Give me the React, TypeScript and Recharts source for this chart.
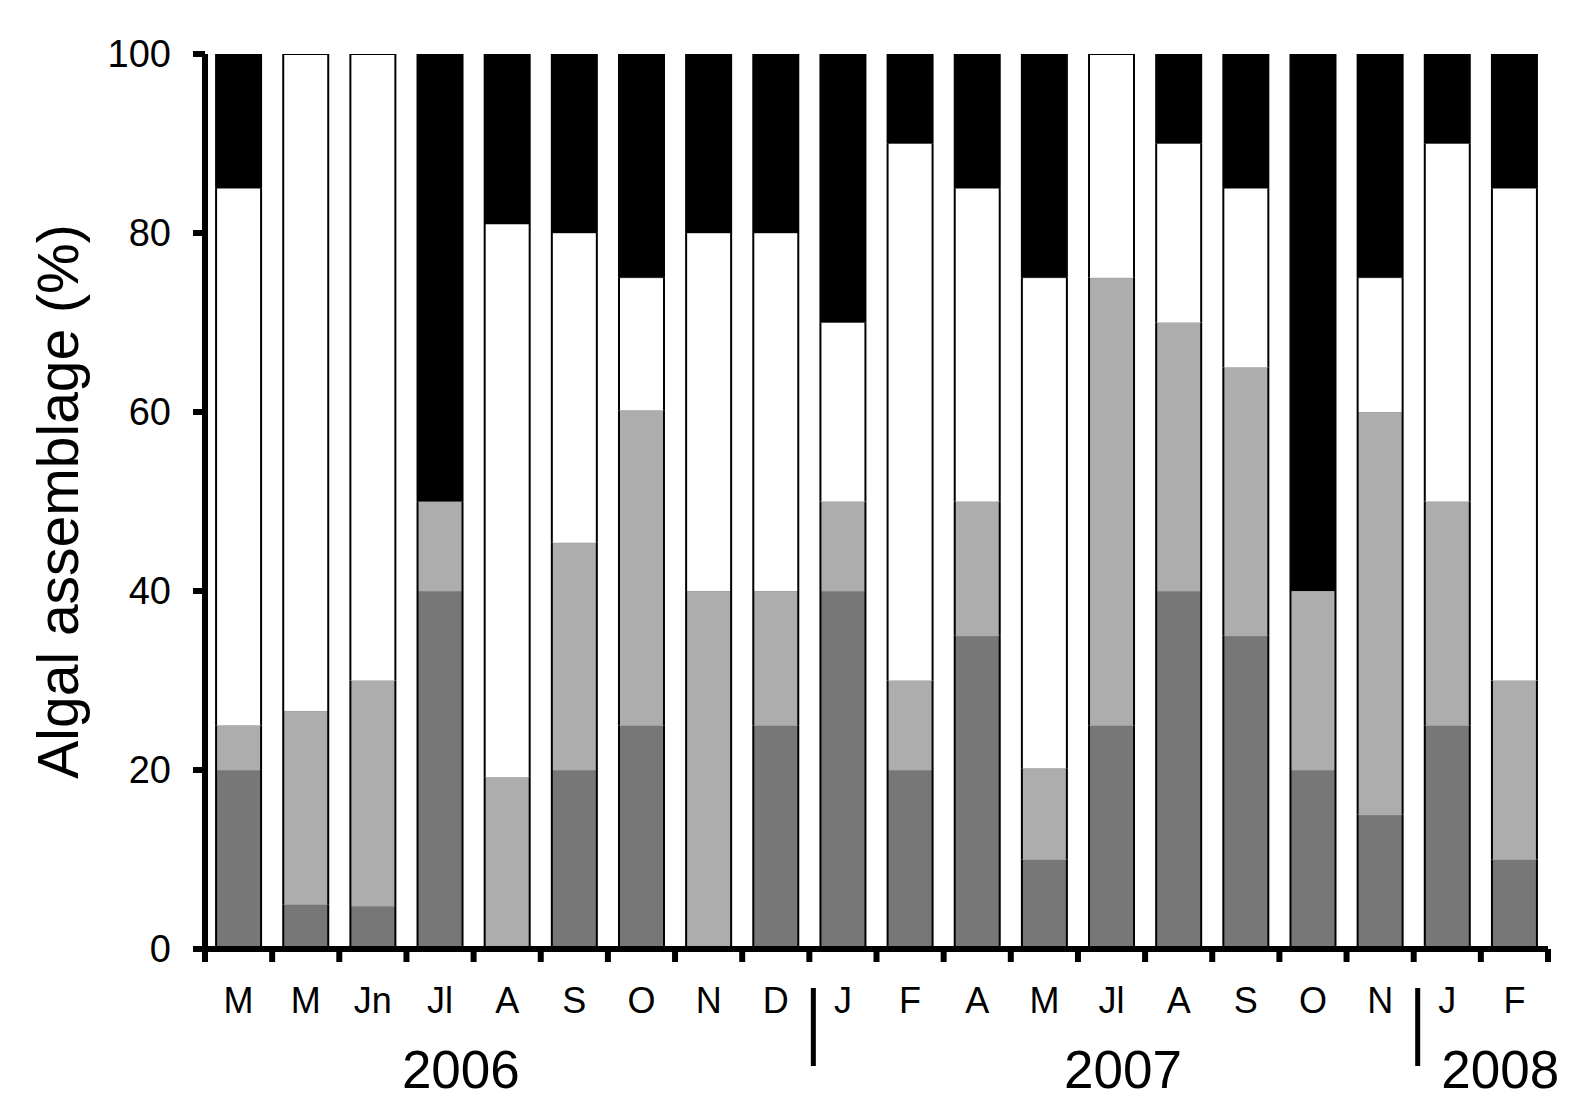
import { BarChart, Bar, XAxis, YAxis } from 'recharts';

const months = ['M', 'M', 'Jn', 'Jl', 'A', 'S', 'O', 'N', 'D', 'J', 'F', 'A', 'M', 'Jl', 'A', 'S', 'O', 'N', 'J', 'F'];

// % of the algal assemblage, bottom to top of each bar
const darkGrey = [20, 5, 4.8, 40, 0.3, 20, 25, 0, 25, 40, 20, 35, 10, 25, 40, 35, 20, 15, 25, 10];
const lightGrey = [5, 21.6, 25.2, 10, 18.9, 25.4, 35.2, 40, 15, 10, 10, 15, 10.2, 50, 30, 30, 20, 45, 25, 20];
const whitePart = [60, 73.4, 70, 0, 61.8, 34.6, 14.8, 40, 40, 20, 60, 35, 54.8, 25, 20, 20, 0, 15, 40, 55];
const blackPart = [15, 0, 0, 50, 19, 20, 25, 20, 20, 30, 10, 15, 25, 0, 10, 15, 60, 25, 10, 15];

const yTicks = [0, 20, 40, 60, 80, 100];

const years = [
  { label: '2006', at: 3, shift: 0.31 },
  { label: '2007', at: 13, shift: 0.17 },
  { label: '2008', at: 18, shift: 0.79 },
];
// year breaks sit just before these categories
const yearBreaks = [9, 18];

const data = months.map((month, i) => ({
  month,
  dark: darkGrey[i],
  light: lightGrey[i],
  white: whitePart[i],
  black: blackPart[i],
}));

const segKeys = ['dark', 'light', 'white', 'black'];
const FONT = '"Liberation Sans", Arial, Helvetica, sans-serif';

function makeShape(key: string) {
  return (props: any) => {
    const { x, y, width, height, fill, payload } = props;
    if (!height || height <= 0) return <g />;
    const idx = segKeys.indexOf(key);
    const isTop = segKeys.slice(idx + 1).every((k) => !(payload[k] > 0));
    return (
      <g>
        <rect x={x} y={y} width={width} height={height} fill={fill} />
        {!isTop && key !== 'black' && (
          <line x1={x} x2={x + width} y1={y} y2={y} stroke="#9a9a9a" strokeWidth={1} />
        )}
        <line x1={x} x2={x} y1={y} y2={y + height} stroke="#000" strokeWidth={2} />
        <line x1={x + width} x2={x + width} y1={y} y2={y + height} stroke="#000" strokeWidth={2} />
        {isTop && <line x1={x} x2={x + width} y1={y} y2={y} stroke="#000" strokeWidth={2} />}
      </g>
    );
  };
}

const MonthTick = (props: any) => {
  const { x, y, payload, width, visibleTicksCount } = props;
  const i = payload.index ?? props.index;
  const half = payload.offset ?? width / visibleTicksCount / 2;
  const last = i === months.length - 1;
  return (
    <g>
      <line x1={x - half} x2={x - half} y1={y} y2={y + 13} stroke="#000" strokeWidth={6} />
      {last && <line x1={x + half} x2={x + half} y1={y} y2={y + 13} stroke="#000" strokeWidth={6} />}
      <text x={x} y={y + 64} textAnchor="middle" fontSize={36} fontFamily={FONT} fill="#000">
        {payload.value}
      </text>
      {yearBreaks.includes(i) && (
        <line x1={x - half + 4} x2={x - half + 4} y1={y + 39} y2={y + 117} stroke="#000" strokeWidth={5} />
      )}
      {years
        .filter((yr) => yr.at === i)
        .map((yr) => (
          <text
            key={yr.label}
            x={x + yr.shift * 2 * half}
            y={y + 139}
            textAnchor="middle"
            fontSize={53}
            fontFamily={FONT}
            fill="#000"
          >
            {yr.label}
          </text>
        ))}
    </g>
  );
};

export default function App() {
  return (
    <div style={{ position: 'absolute', left: 0, top: 0, background: '#fff' }}>
      <BarChart
        width={1575}
        height={1108}
        data={data}
        margin={{ top: 54, right: 27, bottom: 0, left: 0 }}
        barCategoryGap="16.5%"
      >
        <XAxis
          dataKey="month"
          height={159}
          interval={0}
          axisLine={{ stroke: '#000', strokeWidth: 6 }}
          tickLine={false}
          tickSize={0}
          tickMargin={0}
          tick={<MonthTick />}
        />
        <YAxis
          width={205}
          domain={[0, 100]}
          ticks={yTicks}
          allowDataOverflow
          axisLine={{ stroke: '#000', strokeWidth: 6 }}
          tickLine={{ stroke: '#000', strokeWidth: 6 }}
          tickSize={12}
          tickMargin={22}
          tick={{ fill: '#000', fontSize: 38, fontFamily: FONT }}
          label={{
            content: (p: any) => {
              const vb = p.viewBox;
              const cx = vb.x + 78;
              const cy = vb.y + vb.height / 2;
              return (
                <text
                  x={cx}
                  y={cy}
                  transform={`rotate(-90 ${cx} ${cy})`}
                  textAnchor="middle"
                  fontSize={57}
                  fontFamily={FONT}
                  fill="#000"
                >
                  Algal assemblage (%)
                </text>
              );
            },
          }}
        />
        <Bar dataKey="dark" stackId="a" fill="#777777" shape={makeShape('dark')} isAnimationActive={false} />
        <Bar dataKey="light" stackId="a" fill="#adadad" shape={makeShape('light')} isAnimationActive={false} />
        <Bar dataKey="white" stackId="a" fill="#ffffff" shape={makeShape('white')} isAnimationActive={false} />
        <Bar dataKey="black" stackId="a" fill="#000000" shape={makeShape('black')} isAnimationActive={false} />
      </BarChart>
    </div>
  );
}
